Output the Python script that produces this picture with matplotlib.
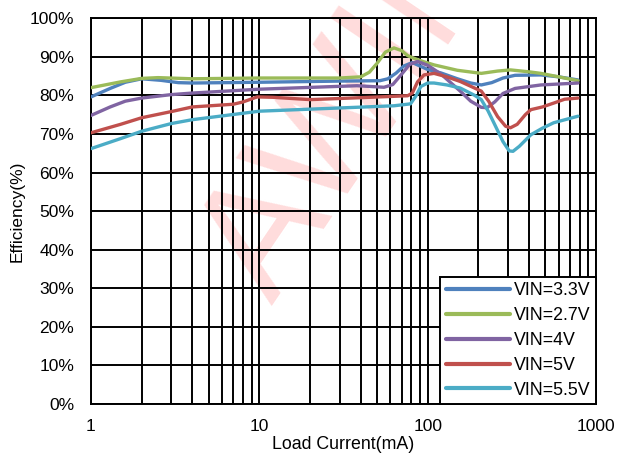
import numpy as np
import matplotlib
matplotlib.use('Agg')
import matplotlib.pyplot as plt
from matplotlib.ticker import LogLocator, FixedLocator, NullFormatter

plt.rcParams['font.family'] = ['Liberation Sans', 'DejaVu Sans']

# Load current (mA) and efficiency (%)
i_33 = [1, 1.3, 1.6, 2, 2.6, 3.3, 4, 10, 30, 52, 58, 65, 72, 81, 90, 100, 120, 150,
        180, 208, 240, 280, 330, 470, 600, 780]
e_33 = [79.6, 81.8, 83.4, 84.3, 83.9, 83.3, 83.2, 83.4, 83.7, 83.8, 84.3, 85.8, 87.6,
        88.5, 87.6, 86.7, 85.8, 84.3, 83.2, 82.7, 83.3, 84.5, 85.2, 85.3, 84.8, 84.0]

i_27 = [1, 1.5, 2, 2.5, 4, 10, 30, 40, 45, 50, 56, 63, 70, 76, 83, 95, 109, 150,
        208, 260, 310, 400, 470, 600, 780]
e_27 = [82.0, 83.5, 84.4, 84.6, 84.3, 84.5, 84.5, 84.8, 86.0, 88.3, 91.2, 92.3, 91.6,
        90.3, 89.6, 88.7, 87.9, 86.5, 85.7, 86.3, 86.6, 86.1, 85.7, 84.8, 83.8]

i_4 = [1, 1.3, 1.6, 2, 3, 4, 10, 38, 55, 62, 70, 78, 87, 100, 120, 156, 180, 208,
       225, 250, 280, 330, 470, 780]
e_4 = [74.8, 77.0, 78.5, 79.3, 80.2, 80.6, 81.6, 82.5, 82.1, 82.8, 85.5, 88.0, 88.8,
       87.8, 85.5, 81.1, 78.5, 76.9, 76.8, 78.3, 80.5, 81.8, 82.7, 83.2]

i_5 = [1, 1.5, 2, 3, 4, 7, 8, 9.7, 12, 20, 40, 76, 81, 87, 95, 109, 130, 156, 208,
       230, 260, 290, 310, 340, 380, 410, 480, 560, 650, 780]
e_5 = [70.3, 72.5, 74.2, 75.8, 77.0, 77.7, 78.3, 79.6, 79.5, 78.9, 79.4, 79.9, 80.6,
       83.5, 85.3, 85.7, 84.8, 83.6, 81.1, 78.5, 74.5, 72.0, 71.6, 72.5, 75.0, 76.3,
       77.0, 78.0, 79.0, 79.3]

i_55 = [1, 1.5, 2, 3, 4, 10, 63, 79, 85, 91, 100, 109, 130, 156, 190, 208, 228, 247,
        280, 305, 321, 350, 410, 480, 560, 780]
e_55 = [66.2, 68.8, 70.7, 72.7, 73.7, 75.9, 77.3, 77.8, 79.8, 82.3, 83.2, 83.2, 82.7,
        81.9, 80.0, 78.9, 76.0, 72.9, 68.0, 65.6, 65.5, 66.8, 69.8, 71.5, 72.9, 74.6]

labels = ['VIN=3.3V', 'VIN=2.7V', 'VIN=4V', 'VIN=5V', 'VIN=5.5V']
colors = ['#4F81BD', '#9BBB59', '#8064A2', '#C0504D', '#4BACC6']

fig = plt.figure(figsize=(6.19, 4.55), dpi=100)
ax = fig.add_axes([0.147, 0.112, 0.816, 0.848])
ax.patch.set_alpha(0)

# watermark behind the axes
fig.text(0.44, 0.327, 'AWINIC', fontsize=118, color='#ffdcdc', rotation=56,
         rotation_mode='anchor', ha='left', va='baseline', zorder=-1)

series = [(i_33, e_33), (i_27, e_27), (i_4, e_4), (i_5, e_5), (i_55, e_55)]
for (x, y), lab, c in zip(series, labels, colors):
    ax.plot(x, y, color=c, lw=2.4, label=lab, solid_capstyle='round',
            solid_joinstyle='round', zorder=3)

ax.set_xscale('log')
ax.set_xlim(1, 1000)
ax.set_ylim(0, 100)
ax.yaxis.set_major_locator(FixedLocator(np.arange(0, 101, 10)))
ax.set_yticklabels([f'{v}%' for v in range(0, 101, 10)])
ax.xaxis.set_major_locator(FixedLocator([1, 10, 100, 1000]))
ax.set_xticklabels(['1', '10', '100', '1000'])
ax.xaxis.set_minor_locator(LogLocator(base=10, subs=np.arange(2, 10)))
ax.xaxis.set_minor_formatter(NullFormatter())

ax.grid(True, which='major', color='black', lw=1.4)
ax.grid(True, which='minor', axis='x', color='black', lw=1.4)
ax.set_axisbelow(True)
for s in ax.spines.values():
    s.set_color('black')
    s.set_linewidth(1.4)

ax.tick_params(which='both', length=0, labelsize=12.5, colors='black')
ax.tick_params(axis='x', pad=11)
ax.tick_params(axis='y', pad=12)

ax.set_xlabel('Load Current(mA)', fontsize=12.8, labelpad=1)
ax.set_ylabel('Efficiency(%)', fontsize=12.5, labelpad=4)

leg = ax.legend(loc='lower right', bbox_to_anchor=(1.0, 0.0), borderaxespad=0,
                fontsize=12.8, fancybox=False, framealpha=1, edgecolor='black',
                handlelength=3.6, handletextpad=0.25, labelspacing=0.44,
                borderpad=0.3)
leg.get_frame().set_linewidth(1.4)
for h in leg.get_lines():
    h.set_linewidth(3)

fig.savefig('out.png', dpi=100)
